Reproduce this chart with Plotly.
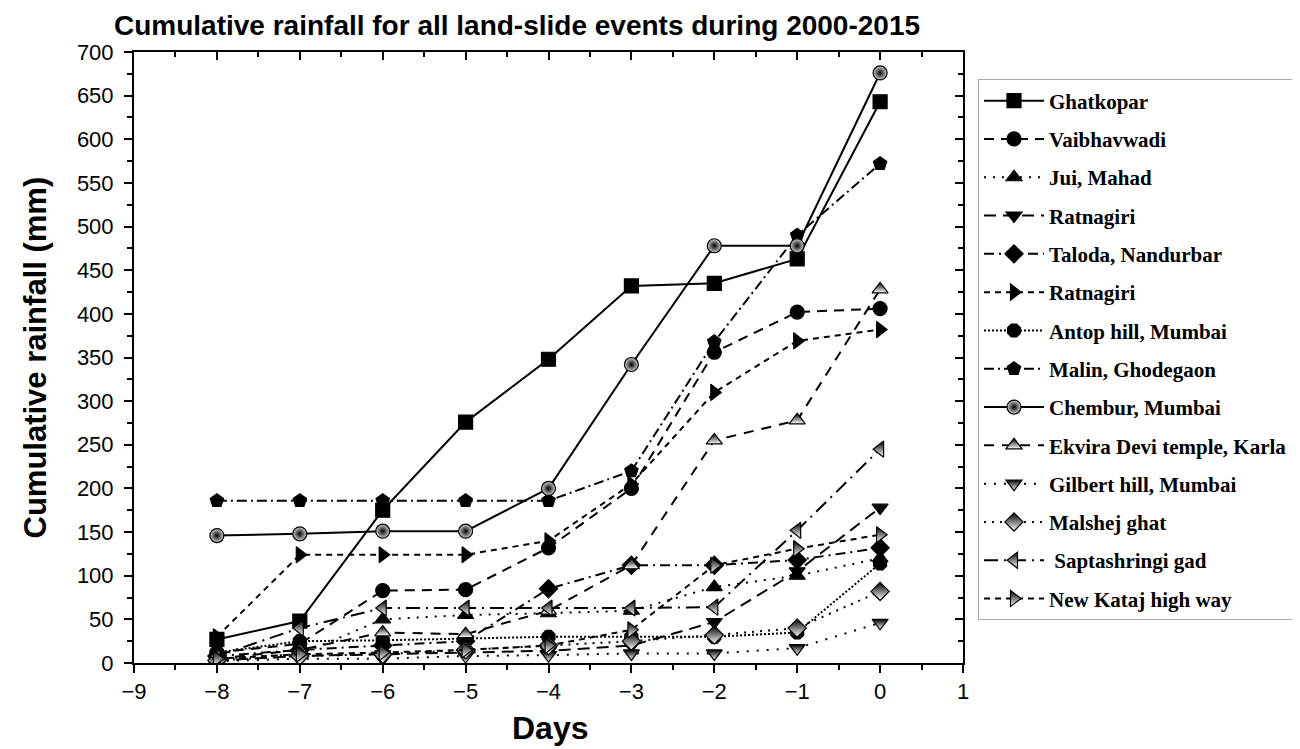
import plotly.graph_objects as go

days = [-8, -7, -6, -5, -4, -3, -2, -1, 0]

names = [
    "Ghatkopar", "Vaibhavwadi", "Jui, Mahad", "Ratnagiri", "Taloda, Nandurbar",
    "Ratnagiri", "Antop hill, Mumbai", "Malin, Ghodegaon", "Chembur, Mumbai",
    "Ekvira Devi temple, Karla", "Gilbert hill, Mumbai", "Malshej ghat",
    " Saptashringi gad", "New Kataj high way",
]

ghatkopar = [27, 48, 175, 276, 348, 432, 435, 463, 643]
vaibhavwadi = [12, 22, 83, 84, 132, 200, 356, 402, 406]
jui_mahad = [5, 10, 50, 55, 57, 60, 87, 100, 120]
ratnagiri_1 = [3, 8, 10, 12, 14, 20, 47, 105, 178]
taloda = [8, 15, 20, 25, 85, 112, 112, 118, 132]
ratnagiri_2 = [30, 124, 124, 124, 140, 205, 310, 369, 382]
antop_hill = [12, 25, 26, 28, 30, 30, 30, 35, 114]
malin = [186, 186, 186, 186, 186, 220, 368, 490, 572]
chembur = [146, 148, 151, 151, 200, 342, 478, 478, 676]
ekvira = [5, 15, 35, 33, 60, 112, 255, 278, 428]
gilbert = [2, 5, 5, 8, 9, 11, 11, 17, 46]
malshej = [3, 8, 10, 15, 20, 25, 32, 40, 82]
saptashringi = [8, 40, 63, 63, 63, 63, 64, 152, 245]
new_kataj = [5, 10, 12, 15, 20, 38, 112, 131, 147]

series = [ghatkopar, vaibhavwadi, jui_mahad, ratnagiri_1, taloda, ratnagiri_2,
          antop_hill, malin, chembur, ekvira, gilbert, malshej, saptashringi, new_kataj]

dashes = ["solid", "10px,7px", "2px,7px", "12px,7px", "10px,5px,2px,5px",
          "6px,5px", "2px,2px", "10px,4px,2px,4px", "solid", "10px,8px",
          "2px,8px", "2px,6px", "14px,6px,2px,6px", "6px,5px"]
symbols = ["square", "circle", "triangle-up", "triangle-down", "diamond",
           "triangle-right", "octagon", "pentagon", "circle", "triangle-up",
           "triangle-down", "diamond", "triangle-left", "triangle-right"]
kinds = ["full", "full", "full", "full", "full", "full", "full", "full", "ball",
         "half", "half", "half", "half", "half"]

fig = go.Figure()
for i, (nm, ys) in enumerate(zip(names, series)):
    marker = dict(symbol=symbols[i], size=14, color="black",
                  line=dict(color="black", width=1.2))
    if kinds[i] == "ball":
        marker.update(color="#d0d0d0", gradient=dict(type="radial", color="black"))
    elif kinds[i] == "half":
        marker.update(color="black", gradient=dict(type="vertical", color="white"))
    fig.add_trace(go.Scatter(
        x=days, y=ys, name="<b>" + nm + "</b>", mode="lines+markers",
        line=dict(color="black", width=2, dash=dashes[i]),
        marker=marker, legendgroup=str(i),
    ))

# invisible carrier trace so the mirrored (inward-tick) axes get drawn
fig.add_trace(go.Scatter(x=days, y=ghatkopar, xaxis="x2", yaxis="y2", mode="lines",
                         opacity=0, showlegend=False, hoverinfo="skip"))

tickfont = dict(family="Liberation Sans, Arial", size=22, color="black")
axis_common = dict(showgrid=False, zeroline=False, linecolor="black", linewidth=2,
                   ticks="outside", tickwidth=2, ticklen=8, tickcolor="black",
                   tickfont=tickfont)

PL, PT, PR, PB = 126, 44, 345, 94
PW, PH = 1300 - PL - PR, 749 - PT - PB

fig.update_layout(
    width=1300, height=749,
    margin=dict(l=PL, r=PR, t=PT, b=PB),
    paper_bgcolor="white", plot_bgcolor="white",
    xaxis=dict(range=[-9, 1], dtick=1, tick0=-9, mirror=True, tickformat="d",
               minor=dict(dtick=0.5, ticks="outside", ticklen=5, tickwidth=2, tickcolor="black"),
               **axis_common),
    yaxis=dict(range=[0, 700], dtick=50, mirror=True, ticklabelstandoff=6,
               minor=dict(dtick=25, ticks="outside", ticklen=5, tickwidth=2, tickcolor="black"),
               **axis_common),
    xaxis2=dict(overlaying="x", side="top", range=[-9, 1], dtick=1, tick0=-9,
                showticklabels=False, ticks="inside", ticklen=8, tickwidth=2,
                tickcolor="black", showgrid=False, zeroline=False, showline=False,
                minor=dict(dtick=0.5, ticks="inside", ticklen=5, tickwidth=2, tickcolor="black")),
    yaxis2=dict(overlaying="y", side="right", range=[0, 700], dtick=50,
                showticklabels=False, ticks="inside", ticklen=8, tickwidth=2,
                tickcolor="black", showgrid=False, zeroline=False, showline=False,
                minor=dict(dtick=25, ticks="inside", ticklen=5, tickwidth=2, tickcolor="black")),
    legend=dict(x=(970 - PL) / PW, xanchor="left", y=0.955, yanchor="top",
                bordercolor="#aaaaaa", borderwidth=1, bgcolor="white",
                font=dict(family="Liberation Serif, Times New Roman", size=21, color="black"),
                traceorder="grouped", tracegroupgap=8, itemwidth=60),
    annotations=[
        dict(text="<b>Cumulative rainfall for all land-slide events during 2000-2015</b>",
             x=(105 - PL) / PW, y=(749 - PB - 1) / PH, xref="paper", yref="paper",
             xanchor="left", yanchor="top", showarrow=False, borderpad=0,
             font=dict(family="Liberation Sans, Arial", size=28, color="black")),
        dict(text="<b>Cumulative rainfall (mm)</b>", textangle=-90,
             x=(27 - PL) / PW, y=0.5, xref="paper", yref="paper",
             xanchor="center", yanchor="middle", showarrow=False,
             font=dict(family="Liberation Sans, Arial", size=31, color="black")),
        dict(text="<b>Days</b>",
             x=(542 - PL) / PW, y=(749 - PB - 720) / PH,
             xref="paper", yref="paper", xanchor="center", yanchor="middle", showarrow=False,
             font=dict(family="Liberation Sans, Arial", size=32, color="black")),
    ],
)

fig.write_html("out.html")
